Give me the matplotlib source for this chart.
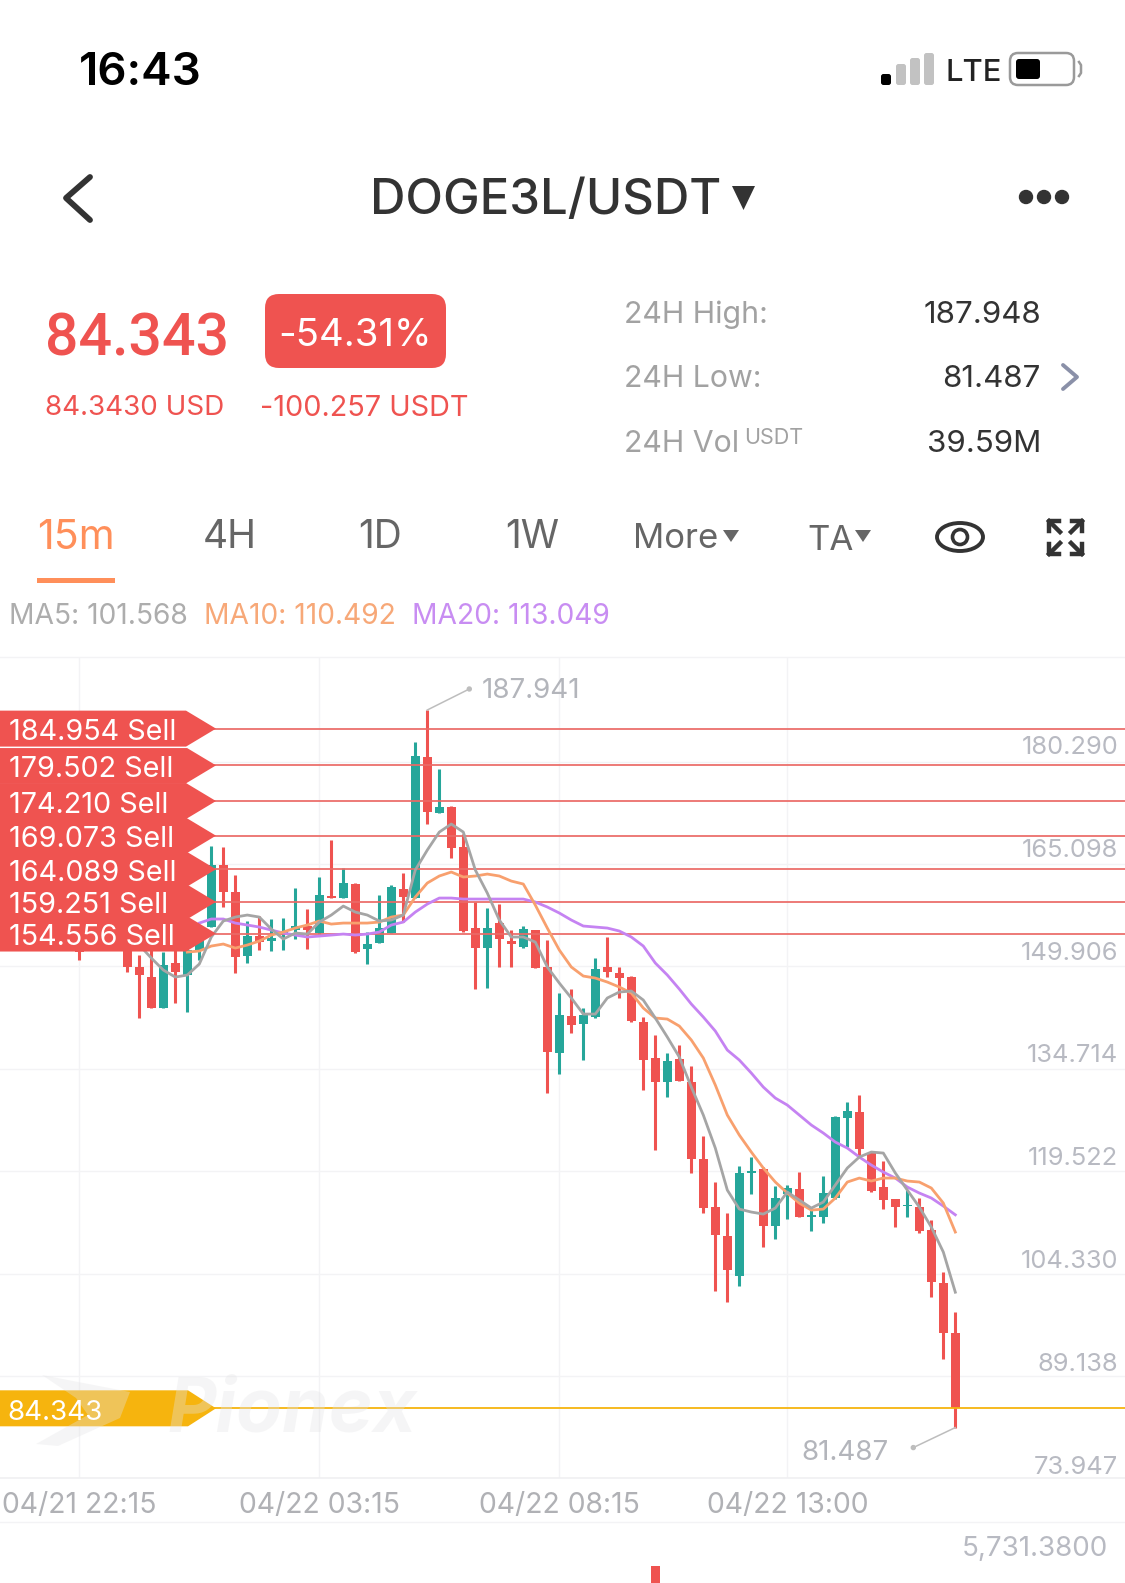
import matplotlib
matplotlib.use("Agg")
import matplotlib.pyplot as plt
from matplotlib.patches import Polygon, FancyBboxPatch, Ellipse, Circle, Rectangle

plt.rcParams['font.family'] = ['Inter', 'DejaVu Sans']

W, H = 1125, 1583
RED = '#EF5350'
GREEN = '#26A69A'
YELLOW = '#F6B40E'
ORANGE = '#FF8F5A'
GREY = '#B3B5BB'

# 15m candles, the ones hidden behind the sell tags are left out
candle_idx = [6] + list(range(10, 80))
opens = [153.07, 153.07, 149.81, 148.32, 143.72, 150.40, 148.62, 152.33, 155.74, 164.94, 160.93, 151.44,
         154.40, 153.66, 154.70, 155.29, 155.89, 154.85, 160.34, 160.04, 162.12, 152.48, 153.37, 154.85,
         161.38, 160.04, 180.96, 172.65, 173.54, 167.61, 155.59, 152.62, 156.33, 153.66, 152.77, 155.29,
         149.81, 137.05, 142.54, 141.35, 142.39, 149.81, 148.92, 148.32, 141.65, 136.31, 132.75, 136.16,
         132.75, 121.32, 114.20, 109.90, 103.96, 119.25, 119.84, 111.38, 116.13, 116.87, 112.72, 112.72,
         115.54, 127.40, 128.29, 122.21, 117.17, 115.39, 114.35, 114.20, 110.79, 102.93, 95.51]
closes = [152.03, 149.81, 148.62, 143.72, 150.10, 149.06, 152.33, 153.81, 164.94, 160.93, 151.29, 154.40,
          153.51, 154.11, 155.00, 155.89, 155.29, 160.49, 160.04, 162.27, 152.03, 153.22, 155.59, 161.67,
          160.19, 181.11, 172.80, 173.54, 167.46, 155.15, 152.62, 155.59, 153.96, 153.22, 155.44, 149.66,
          137.20, 142.68, 141.20, 142.68, 149.51, 149.06, 148.17, 141.79, 136.01, 132.75, 135.86, 132.89,
          121.32, 114.05, 110.05, 104.86, 119.25, 119.54, 111.38, 115.54, 117.02, 112.72, 113.02, 116.28,
          127.55, 128.44, 122.81, 116.58, 115.24, 114.20, 114.50, 110.64, 103.07, 95.51, 84.343]
highs = [153.81, 153.81, 151.59, 152.33, 152.03, 152.33, 153.07, 155.29, 167.76, 167.61, 163.45, 156.63,
         157.37, 156.93, 157.07, 161.53, 158.41, 163.15, 168.65, 164.49, 162.27, 155.00, 160.49, 161.97,
         163.75, 183.18, 187.941, 179.18, 173.69, 169.54, 159.45, 158.56, 159.15, 155.29, 155.89, 155.29,
         153.81, 145.95, 146.54, 143.72, 151.14, 154.26, 149.81, 148.47, 142.39, 139.72, 137.05, 138.23,
         135.12, 124.73, 117.91, 113.31, 120.28, 121.62, 120.14, 117.32, 117.47, 119.39, 114.05, 118.80,
         127.70, 129.78, 130.82, 122.51, 121.03, 115.39, 116.72, 115.54, 112.27, 104.56, 98.62]
lows = [150.84, 149.06, 142.24, 143.72, 143.72, 144.46, 143.13, 150.84, 155.74, 158.71, 148.92, 150.40,
        152.33, 152.18, 152.33, 153.96, 152.48, 154.70, 160.04, 160.04, 151.88, 150.25, 153.37, 154.85,
        156.48, 160.04, 171.02, 172.65, 165.98, 155.00, 146.54, 146.69, 149.81, 149.81, 152.62, 149.66,
        131.11, 133.93, 140.00, 136.01, 142.24, 148.32, 145.21, 141.65, 131.56, 122.66, 130.52, 132.89,
        119.25, 113.31, 101.74, 100.11, 102.48, 116.13, 108.27, 109.46, 112.42, 112.72, 110.64, 111.83,
        115.39, 123.10, 121.62, 116.43, 113.90, 111.23, 112.72, 110.34, 100.85, 91.65, 81.487]

ma5_start = 11
ma5 = [153.07, 151.14, 149.36, 148.32, 148.62, 150.25, 154.26, 156.63, 157.22, 157.52, 157.22, 155.44,
       153.96, 154.85, 154.70, 156.48, 157.52, 158.85, 157.96, 157.52, 156.63, 156.78, 157.52, 164.20,
       167.16, 169.83, 171.02, 169.83, 164.20, 160.78, 156.78, 154.26, 154.26, 153.51, 149.81, 147.43,
       145.21, 142.83, 142.83, 145.21, 146.10, 146.25, 144.91, 142.24, 139.42, 136.45, 132.00, 127.85,
       122.95, 116.72, 113.90, 113.46, 113.16, 114.05, 116.43, 115.24, 114.05, 114.94, 117.47, 119.99,
       121.62, 122.36, 122.21, 119.25, 116.72, 114.20, 111.23, 107.53, 101.568]
ma10_start = 15
ma10 = [152.03, 152.18, 152.92, 153.22, 152.62, 153.07, 153.66, 154.55, 155.00, 155.59, 156.04, 156.63,
        156.18, 156.33, 156.33, 156.33, 156.48, 157.22, 157.52, 160.19, 162.27, 163.31, 163.90, 163.16,
        163.31, 163.60, 163.31, 162.56, 162.12, 159.00, 155.59, 152.33, 149.81, 148.47, 148.17, 147.58,
        146.84, 145.95, 143.72, 142.24, 142.09, 141.05, 138.98, 136.31, 132.30, 127.85, 124.88, 122.36,
        119.99, 117.91, 116.28, 114.79, 113.75, 113.90, 115.54, 117.91, 118.50, 118.06, 118.50, 118.50,
        118.06, 117.91, 117.02, 114.79, 110.492]
ma20_start = 16
ma20 = [156.33, 156.93, 156.93, 156.33, 156.04, 155.74, 155.29, 154.85, 154.55, 154.26, 154.40, 154.55,
        154.70, 154.55, 154.70, 155.00, 156.04, 156.48, 157.96, 159.15, 160.04, 160.04, 159.89, 159.89,
        159.89, 159.89, 159.89, 159.89, 159.45, 158.71, 157.82, 156.78, 155.89, 155.74, 155.59, 155.15,
        154.26, 152.92, 150.40, 148.62, 146.54, 144.32, 142.39, 140.31, 137.49, 136.01, 134.08, 132.00,
        130.37, 129.33, 127.85, 126.37, 125.18, 123.84, 122.95, 121.62, 120.43, 119.39, 118.50, 117.17,
        116.28, 115.54, 114.35, 113.049]

sell_levels = [184.954, 179.502, 174.210, 169.073, 164.089, 159.251, 154.556]
last_price = 84.343
y_ticks = [180.290, 165.098, 149.906, 134.714, 119.522, 104.330, 89.138, 73.947]
x_tick_idx = [6, 26, 46, 65]
x_tick_labels = ['04/21 22:15', '04/22 03:15', '04/22 08:15', '04/22 13:00']
vol_idx = [54]
vol_values = [5731.38]

fig = plt.figure(figsize=(W / 100, H / 100), dpi=100, facecolor='white')


def rect_for(top, bottom):
    return [0, 1 - bottom / H, 1, (bottom - top) / H]


# price panel
ax = fig.add_axes(rect_for(657, 1478.4))
ax.set_xlim(-0.608, 93.14)
ax.set_ylim(73.947, 195.80)
ax.patch.set_alpha(0)
for s in ax.spines.values():
    s.set_visible(False)
ax.set_yticks(y_ticks)
ax.set_xticks(x_tick_idx)
ax.set_xticklabels(x_tick_labels, color='#B0B1B5', fontsize=20.4)
ax.set_yticklabels([])
ax.tick_params(length=0, axis='both')
ax.tick_params(axis='x', pad=9.5)
ax.grid(color='#F3F3F5', lw=1.0, zorder=0)
ax.set_axisbelow(True)

bar_colors = [GREEN if c >= o else RED for o, c in zip(opens, closes)]
ax.vlines(candle_idx, lows, highs, colors=bar_colors, lw=2.2, zorder=3)
ax.bar(candle_idx, [abs(c - o) for o, c in zip(opens, closes)],
       bottom=[min(o, c) for o, c in zip(opens, closes)], width=0.75, color=bar_colors, zorder=3)

# order lines sit a hair above their quoted level on the app
for lev in sell_levels:
    ax.axhline(lev + 0.22, color='#EB6A66', lw=1.25, zorder=4)
ax.axhline(last_price, color=YELLOW, lw=1.3, zorder=4)

ax.plot(range(ma20_start, 80), ma20, color='#C583F2', lw=2.0, zorder=5)
ax.plot(range(ma10_start, 80), ma10, color='#F8A06E', lw=2.0, zorder=5)
ax.plot(range(ma5_start, 80), ma5, color='#A5A5A5', lw=2.0, zorder=6)

# tick labels drift a little relative to the gridlines, top to bottom
for n, t in enumerate(y_ticks):
    ax.annotate(f'{t:.3f}', xy=(1, t), xycoords=('axes fraction', 'data'), xytext=(-5, 10.4 - 0.4 * n),
                textcoords='offset points', ha='right', va='center', fontsize=18.3, color='#B8BAC2')

# volume panel, only the top of the tallest bar is on screen
ax_vol = fig.add_axes(rect_for(1522, H))
ax_vol.set_xlim(-0.608, 93.14)
ax_vol.set_ylim(4876, 7944)
ax_vol.axis('off')
ax_vol.bar(vol_idx, vol_values, width=0.75, color=RED)

# everything else is screen furniture, drawn in pixel coordinates
ui = fig.add_axes([0, 0, 1, 1], zorder=10)
ui.set_xlim(0, W)
ui.set_ylim(H, 0)
ui.axis('off')
ui.patch.set_alpha(0)


def px(i):
    return 7.3 + 12 * i


def py(p):
    return 1376 - (p - 89.138) * 6.7408


def label(x, y, s, size, color, ha='left', weight='normal', va='center_baseline', family=None):
    ui.text(x, y, s, fontsize=size, color=color, ha=ha, va=va, fontweight=weight, family=family)


def tri(x0, x1, y0, y1, color):
    ui.add_patch(Polygon([(x0, y0), (x1, y0), ((x0 + x1) / 2, y1)], color=color, lw=0))


# grid rules outside the axes
ui.plot([0, W], [1522, 1522], color='#F3F3F5', lw=1.0)
ui.plot([0, W], [1478, 1478], color='#F0F0F2', lw=1.2)
ui.plot([0, W], [657, 657], color='#F3F3F5', lw=1.0)

# sell tags
for lev in sell_levels:
    yc = py(lev) - 1.5
    ui.add_patch(Polygon([(0, yc - 18), (186, yc - 18), (216, yc), (186, yc + 18), (0, yc + 18)],
                         color=RED, lw=0, zorder=2))
for lev in sell_levels:
    label(9, py(lev) - 0.5, f'{lev:.3f} Sell', 20.7, 'white')
ui.plot([0, 186], [py(sell_levels[0]) + 16.5] * 2, color='white', lw=0.8, zorder=3)

# last price tag
yc = py(last_price)
ui.add_patch(Polygon([(0, yc - 18), (188, yc - 18), (216, yc), (188, yc + 18), (0, yc + 18)],
                     color=YELLOW, lw=0, zorder=2))
label(7, yc + 2, f'{last_price:.3f}', 20.0, 'white')

# watermark runs over the tag as a faint veil
ui.text(167, 1412, 'Pionex', fontsize=54, color='#E4E4E6', alpha=0.35, fontweight='bold', style='italic',
        ha='left', va='center', zorder=2.5)
ui.add_patch(Polygon([(42, 1375), (130, 1392), (120, 1418), (58, 1446), (36, 1444), (88, 1415), (76, 1398)],
                     color='#E4E4E6', alpha=0.35, lw=0, zorder=2.5))

# high / low callouts
hx, hy = px(35), py(187.941)
ui.plot([hx, hx + 42], [hy, hy - 21], color='#BDBDBD', lw=1.1)
ui.add_patch(Circle((hx + 42, hy - 21), 2, color='#BDBDBD'))
label(482, 688, '187.941', 20, GREY)
lx, ly = px(79), py(81.487)
ui.plot([lx, lx - 42], [ly, ly + 20], color='#BDBDBD', lw=1.1)
ui.add_patch(Circle((lx - 42, ly + 20), 2, color='#BDBDBD'))
label(889, 1450, '81.487', 20, GREY, ha='right')
label(1108, 1546, '5,731.3800', 20, '#B8BAC2', ha='right')

# status bar
label(79, 68, '16:43', 33, 'black', weight='semibold')
for x0, top, c in [(881, 74, 'black'), (896, 64, '#C2C2C2'), (910, 58, '#C2C2C2'), (924, 53, '#C2C2C2')]:
    ui.add_patch(FancyBboxPatch((x0 + 2, top + 2), 6, 85 - top - 4, boxstyle='round,pad=2,rounding_size=2.5',
                                color=c, lw=0))
label(945, 70, 'LTE', 22.3, '#222222', weight='medium')
ui.add_patch(FancyBboxPatch((1012, 55), 60, 28, boxstyle='round,pad=2,rounding_size=8',
                            fc='white', ec='#9A9A9A', lw=1.8))
ui.add_patch(FancyBboxPatch((1018, 61), 20, 16, boxstyle='round,pad=2,rounding_size=3', color='black', lw=0))
ui.plot([1079, 1081, 1081, 1079], [62, 65, 73, 76], color='#9A9A9A', lw=1.8)

# header
ui.plot([90, 66, 90], [177, 198, 220], color='#333333', lw=4.2, solid_capstyle='round', solid_joinstyle='round')
label(370, 196, 'DOGE3L/USDT', 35.3, '#333333', weight='medium')
tri(732, 755, 186, 210, '#333333')
for x0 in [1026, 1044, 1062]:
    ui.add_patch(Circle((x0, 197), 6.5, color='#333333'))

# price block
label(45, 333, '84.343', 42.5, RED, weight='medium', family=['Roboto', 'DejaVu Sans'])
ui.add_patch(FancyBboxPatch((279, 308), 153, 46, boxstyle='round,pad=14,rounding_size=14', color=RED, lw=0))
label(355, 332, '-54.31%', 27.6, 'white', ha='center')
label(45, 405, '84.3430 USD', 20, RED)
label(260, 405, '-100.257 USDT', 20.8, RED)

label(624, 312, '24H High:', 21.8, '#A2A2A2')
label(624, 376, '24H Low:', 21.8, '#A2A2A2')
label(624, 441, '24H Vol', 21.8, '#A2A2A2')
label(744, 436, 'USDT', 15.5, '#A2A2A2')
label(1041, 312, '187.948', 22.5, '#333333', ha='right')
label(1041, 376, '81.487', 22.5, '#333333', ha='right')
label(1041, 441, '39.59M', 22.5, '#333333', ha='right')
ui.plot([1063, 1077, 1063], [365, 377, 389], color='#8A90A8', lw=2.8, solid_capstyle='round')

# interval tabs
label(37, 534, '15m', 29.5, ORANGE)
label(203, 534, '4H', 28, '#666666')
label(358, 534, '1D', 28, '#666666')
label(505, 534, '1W', 28, '#666666')
label(633, 536, 'More', 25, '#666666')
tri(723, 739, 530, 542, '#666666')
label(807, 537, 'TA', 25, '#666666')
tri(855, 871, 530, 542, '#666666')
ui.add_patch(Rectangle((37, 578), 78, 5, color=ORANGE, lw=0))

ui.add_patch(Ellipse((960, 537), 46, 28, fc='none', ec='#333333', lw=2.8))
ui.add_patch(Circle((960, 537), 7.5, fc='none', ec='#333333', lw=2.6))
for cx, cy, sx, sy in [(1049, 521, 1, 1), (1082, 521, -1, 1), (1049, 554, 1, -1), (1082, 554, -1, -1)]:
    ui.plot([cx, cx, cx + sx * 10], [cy + sy * 10, cy, cy], color='#333333', lw=3.2)
    ui.plot([cx, cx + sx * 11], [cy, cy + sy * 11], color='#333333', lw=3.2)

# moving average legend
label(9, 613, 'MA5: 101.568', 20.3, '#ADADAD')
label(204, 613, 'MA10: 110.492', 20.3, '#F7A878')
label(412, 613, 'MA20: 113.049', 20.3, '#C88DF2')

fig.savefig('out.png', dpi=100, facecolor='white')
